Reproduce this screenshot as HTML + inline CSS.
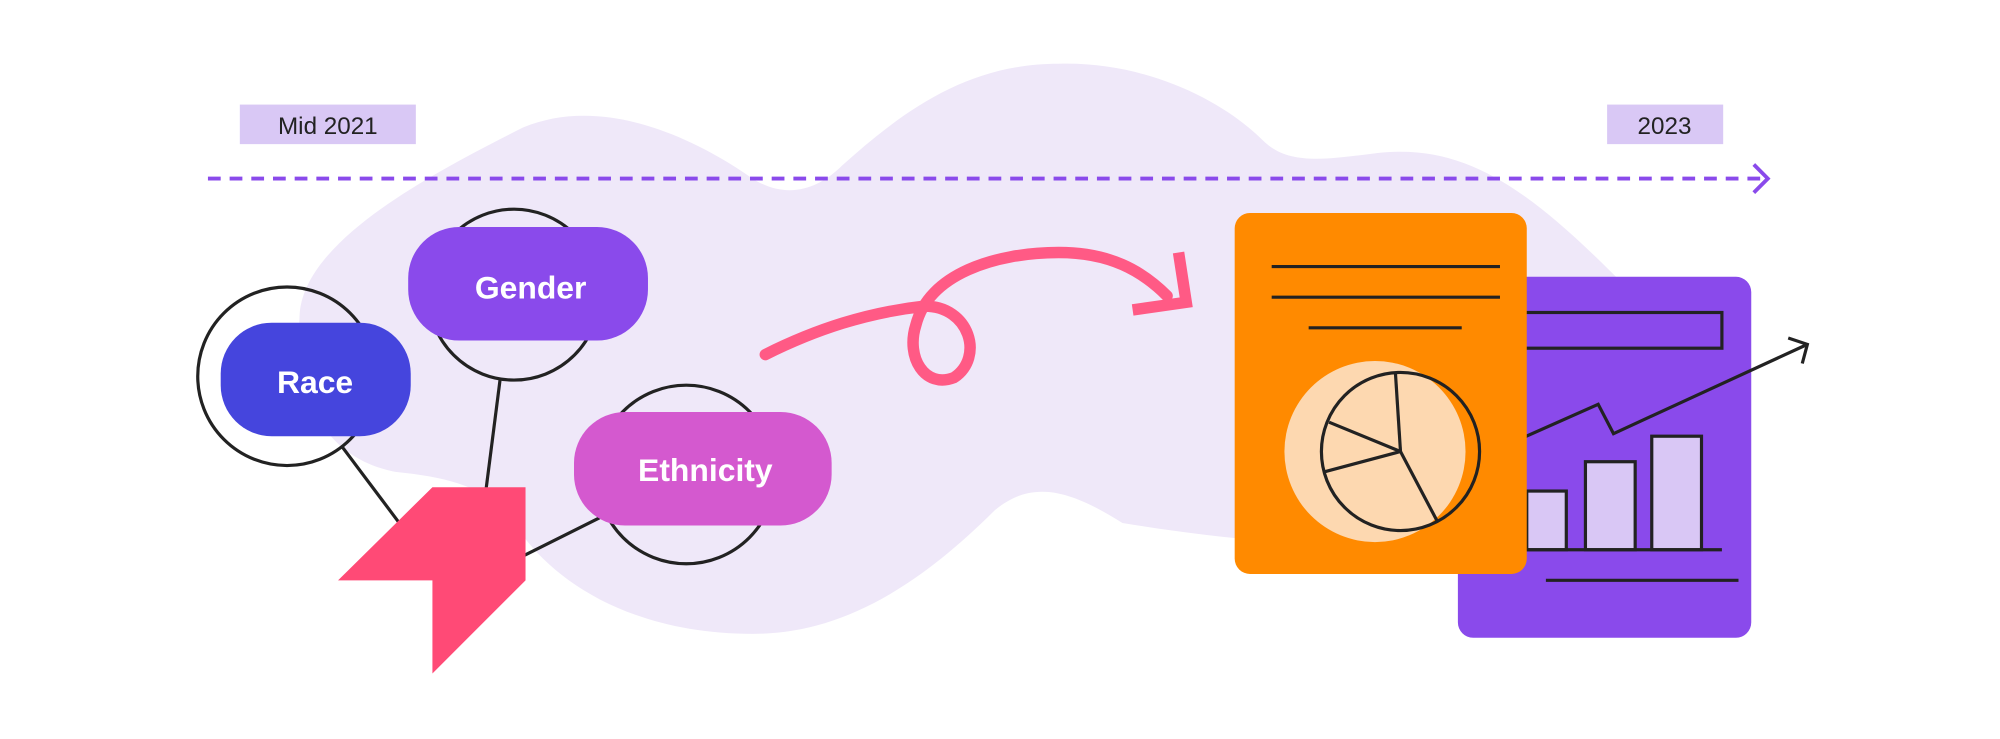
<!DOCTYPE html>
<html><head><meta charset="utf-8"><style>
html,body{margin:0;padding:0;background:#fff;}
svg{display:block;}
</style></head><body>
<svg width="2000" height="739" viewBox="0 0 1568 579.4" xmlns="http://www.w3.org/2000/svg">
<rect width="1568" height="580" fill="#fff"/>
<path d="M235,245 C240,190 330,140 410,100 C470,75 540,105 590,140 C615,156 640,150 660,130 C710,85 760,50 830,50 C900,48 960,80 990,110 C1010,130 1040,125 1080,120 C1150,112 1200,150 1270,220 L1270,400 C1150,440 1000,430 880,410 C840,385 810,375 780,400 C710,470 650,497 590,497 C500,497 440,460 410,420 C390,385 360,375 310,370 C260,360 230,320 235,245 Z" fill="#EFE8F9"/>
<rect x="188" y="82" width="138" height="31" fill="#D9C8F5"/>
<text x="257" y="105" font-family="Liberation Sans, sans-serif" font-size="19" fill="#222" text-anchor="middle">Mid 2021</text>
<rect x="1260" y="82" width="91" height="31" fill="#D9C8F5"/>
<text x="1305" y="105" font-family="Liberation Sans, sans-serif" font-size="19" fill="#222" text-anchor="middle">2023</text>
<line x1="163" y1="140" x2="1383" y2="140" stroke="#8A4AEB" stroke-width="3" stroke-dasharray="10,7"/>
<polyline points="1375,129 1386,140 1375,151" fill="none" stroke="#8A4AEB" stroke-width="3"/>
<g stroke="#222" stroke-width="2.5" fill="none">
<line x1="268" y1="350" x2="313" y2="410"/>
<line x1="392" y1="298" x2="381" y2="384"/>
<line x1="470" y1="406" x2="410" y2="436"/>
<circle cx="225" cy="295" r="70"/>
<circle cx="403" cy="231" r="67"/>
<circle cx="538" cy="372" r="70"/>
</g>
<rect x="173" y="253" width="149" height="89" rx="40" fill="#4545DD"/>
<text x="247" y="308" font-family="Liberation Sans, sans-serif" font-weight="bold" font-size="25" fill="#fff" text-anchor="middle">Race</text>
<rect x="320" y="178" width="188" height="89" rx="40" fill="#8A4AEB"/>
<text x="416" y="234" font-family="Liberation Sans, sans-serif" font-weight="bold" font-size="25" fill="#fff" text-anchor="middle">Gender</text>
<rect x="450" y="323" width="202" height="89" rx="40" fill="#D459CF"/>
<text x="553" y="377" font-family="Liberation Sans, sans-serif" font-weight="bold" font-size="25" fill="#fff" text-anchor="middle">Ethnicity</text>
<polygon points="339,382 412,382 412,455 339,528 339,455 265,455" fill="#FF4A76"/>
<path d="M600,278 C640,258 680,245 725,240 C760,240 772,280 748,296 C725,305 710,280 718,255 C728,215 780,198 830,198 C870,198 895,212 915,232" fill="none" stroke="#FF5A85" stroke-width="9" stroke-linecap="round"/>
<polyline points="888,243 930,237 924,198" fill="none" stroke="#FF5A85" stroke-width="9"/>
<rect x="1143" y="217" width="230" height="283" rx="12" fill="#8A4AEB"/>
<rect x="1190" y="245" width="160" height="28" fill="none" stroke="#222" stroke-width="2.5"/>
<g fill="#D9C7F5" stroke="#222" stroke-width="2.5">
<rect x="1197" y="385" width="31" height="46"/>
<rect x="1243" y="362" width="39" height="69"/>
<rect x="1295" y="342" width="39" height="89"/>
</g>
<line x1="1190" y1="431" x2="1350" y2="431" stroke="#222" stroke-width="2.5"/>
<line x1="1212" y1="455" x2="1363" y2="455" stroke="#222" stroke-width="2.5"/>
<polyline points="1190,345 1253,317 1265,340 1417,270" fill="none" stroke="#222" stroke-width="2.5"/>
<polyline points="1402,265 1417,270 1413,285" fill="none" stroke="#222" stroke-width="2.5"/>
<rect x="968" y="167" width="229" height="283" rx="12" fill="#FF8A00"/>
<g stroke="#222" stroke-width="2.5">
<line x1="997" y1="209" x2="1176" y2="209"/>
<line x1="997" y1="233" x2="1176" y2="233"/>
<line x1="1026" y1="257" x2="1146" y2="257"/>
</g>
<circle cx="1078" cy="354" r="71" fill="#FDD8B0"/>
<g stroke="#222" stroke-width="2.5" fill="none">
<circle cx="1098" cy="354" r="62"/>
<line x1="1098" y1="354" x2="1094" y2="292"/>
<line x1="1098" y1="354" x2="1042" y2="331"/>
<line x1="1098" y1="354" x2="1038" y2="370"/>
<line x1="1098" y1="354" x2="1127" y2="409"/>
</g>
</svg>
</body></html>
